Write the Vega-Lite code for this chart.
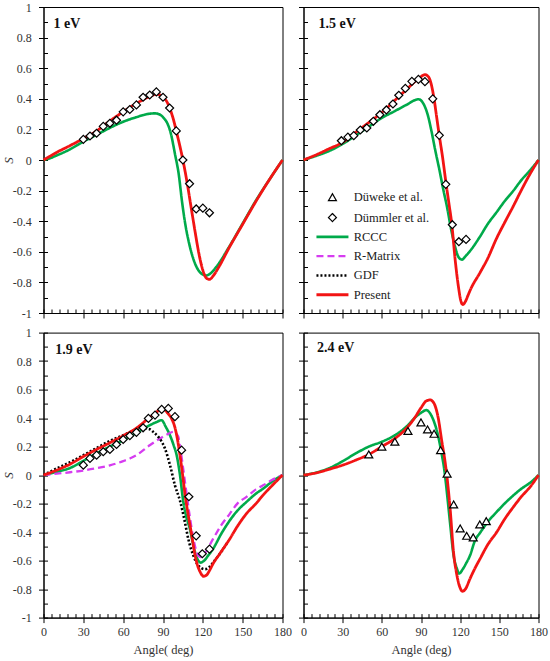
{
  "$schema": "https://vega.github.io/schema/vega-lite/v6.json",
  "background": "white",
  "padding": {"left": 1.5, "top": 0, "right": 0, "bottom": 0},
  "config": {
    "view": {"stroke": "#000000", "strokeWidth": 1},
    "font": "Liberation Serif",
    "axis": {"labelFont": "Liberation Serif", "labelFontSize": 12, "labelColor": "#333333", "titleFont": "Liberation Serif", "titleFontSize": 12.5, "titleFontWeight": "normal", "titleColor": "#333333", "tickColor": "#000000", "domainColor": "#000000", "grid": false, "labelFlush": false, "minExtent": 0},
    "legend": {"labelFont": "Liberation Serif", "labelFontSize": 12.5, "labelColor": "#222222", "padding": 0, "rowPadding": 6.3, "labelOffset": 15, "titlePadding": 0, "symbolSize": 64}
  },
  "datasets": {
    "p1": [
      {"series": "RCCC", "angle": 0, "S": 0}, {"series": "RCCC", "angle": 5, "S": 0.012}, {"series": "RCCC", "angle": 10, "S": 0.03}, {"series": "RCCC", "angle": 20, "S": 0.07}, {"series": "RCCC", "angle": 30, "S": 0.12}, {"series": "RCCC", "angle": 40, "S": 0.165}, {"series": "RCCC", "angle": 50, "S": 0.21}, {"series": "RCCC", "angle": 60, "S": 0.25}, {"series": "RCCC", "angle": 70, "S": 0.28}, {"series": "RCCC", "angle": 78, "S": 0.3}, {"series": "RCCC", "angle": 84, "S": 0.305}, {"series": "RCCC", "angle": 88, "S": 0.295}, {"series": "RCCC", "angle": 91, "S": 0.27}, {"series": "RCCC", "angle": 93, "S": 0.245}, {"series": "RCCC", "angle": 96, "S": 0.17}, {"series": "RCCC", "angle": 99, "S": 0.04}, {"series": "RCCC", "angle": 101.8, "S": -0.09}, {"series": "RCCC", "angle": 104.3, "S": -0.27}, {"series": "RCCC", "angle": 106.8, "S": -0.42}, {"series": "RCCC", "angle": 109.8, "S": -0.55}, {"series": "RCCC", "angle": 113, "S": -0.65}, {"series": "RCCC", "angle": 118, "S": -0.735}, {"series": "RCCC", "angle": 122.4, "S": -0.755}, {"series": "RCCC", "angle": 126, "S": -0.74}, {"series": "RCCC", "angle": 130, "S": -0.7}, {"series": "RCCC", "angle": 140, "S": -0.565}, {"series": "RCCC", "angle": 150, "S": -0.415}, {"series": "RCCC", "angle": 160, "S": -0.265}, {"series": "RCCC", "angle": 170, "S": -0.13}, {"series": "RCCC", "angle": 180, "S": 0},
      {"series": "Present", "angle": 0, "S": 0}, {"series": "Present", "angle": 5, "S": 0.025}, {"series": "Present", "angle": 10, "S": 0.05}, {"series": "Present", "angle": 20, "S": 0.094}, {"series": "Present", "angle": 30, "S": 0.14}, {"series": "Present", "angle": 40, "S": 0.19}, {"series": "Present", "angle": 50, "S": 0.255}, {"series": "Present", "angle": 60, "S": 0.315}, {"series": "Present", "angle": 70, "S": 0.37}, {"series": "Present", "angle": 80, "S": 0.415}, {"series": "Present", "angle": 85, "S": 0.43}, {"series": "Present", "angle": 88, "S": 0.425}, {"series": "Present", "angle": 90, "S": 0.41}, {"series": "Present", "angle": 93, "S": 0.38}, {"series": "Present", "angle": 95, "S": 0.34}, {"series": "Present", "angle": 98, "S": 0.26}, {"series": "Present", "angle": 100, "S": 0.19}, {"series": "Present", "angle": 103, "S": 0.08}, {"series": "Present", "angle": 105, "S": 0.0}, {"series": "Present", "angle": 108, "S": -0.14}, {"series": "Present", "angle": 111, "S": -0.3}, {"series": "Present", "angle": 114, "S": -0.46}, {"series": "Present", "angle": 117, "S": -0.61}, {"series": "Present", "angle": 120, "S": -0.72}, {"series": "Present", "angle": 123, "S": -0.775}, {"series": "Present", "angle": 125, "S": -0.78}, {"series": "Present", "angle": 128, "S": -0.755}, {"series": "Present", "angle": 132, "S": -0.7}, {"series": "Present", "angle": 140, "S": -0.57}, {"series": "Present", "angle": 150, "S": -0.42}, {"series": "Present", "angle": 160, "S": -0.27}, {"series": "Present", "angle": 170, "S": -0.13}, {"series": "Present", "angle": 180, "S": 0},
      {"series": "Dümmler et al.", "angle": 30, "S": 0.135}, {"series": "Dümmler et al.", "angle": 35, "S": 0.157}, {"series": "Dümmler et al.", "angle": 40, "S": 0.175}, {"series": "Dümmler et al.", "angle": 45, "S": 0.22}, {"series": "Dümmler et al.", "angle": 50, "S": 0.24}, {"series": "Dümmler et al.", "angle": 55, "S": 0.26}, {"series": "Dümmler et al.", "angle": 60, "S": 0.315}, {"series": "Dümmler et al.", "angle": 65, "S": 0.33}, {"series": "Dümmler et al.", "angle": 70, "S": 0.36}, {"series": "Dümmler et al.", "angle": 75, "S": 0.41}, {"series": "Dümmler et al.", "angle": 80, "S": 0.425}, {"series": "Dümmler et al.", "angle": 85, "S": 0.445}, {"series": "Dümmler et al.", "angle": 90, "S": 0.41}, {"series": "Dümmler et al.", "angle": 95, "S": 0.34}, {"series": "Dümmler et al.", "angle": 100, "S": 0.19}, {"series": "Dümmler et al.", "angle": 105, "S": 0.0}, {"series": "Dümmler et al.", "angle": 110, "S": -0.155}, {"series": "Dümmler et al.", "angle": 115, "S": -0.32}, {"series": "Dümmler et al.", "angle": 120, "S": -0.315}, {"series": "Dümmler et al.", "angle": 125, "S": -0.345}
    ],
    "p2": [
      {"series": "RCCC", "angle": 0, "S": 0}, {"series": "RCCC", "angle": 10, "S": 0.028}, {"series": "RCCC", "angle": 20, "S": 0.06}, {"series": "RCCC", "angle": 30, "S": 0.105}, {"series": "RCCC", "angle": 40, "S": 0.16}, {"series": "RCCC", "angle": 50, "S": 0.218}, {"series": "RCCC", "angle": 60, "S": 0.275}, {"series": "RCCC", "angle": 70, "S": 0.32}, {"series": "RCCC", "angle": 80, "S": 0.366}, {"series": "RCCC", "angle": 85, "S": 0.39}, {"series": "RCCC", "angle": 88, "S": 0.397}, {"series": "RCCC", "angle": 92, "S": 0.366}, {"series": "RCCC", "angle": 95, "S": 0.3}, {"series": "RCCC", "angle": 98, "S": 0.19}, {"series": "RCCC", "angle": 101, "S": 0.06}, {"series": "RCCC", "angle": 104, "S": -0.06}, {"series": "RCCC", "angle": 107, "S": -0.19}, {"series": "RCCC", "angle": 110, "S": -0.31}, {"series": "RCCC", "angle": 113, "S": -0.45}, {"series": "RCCC", "angle": 116.2, "S": -0.57}, {"series": "RCCC", "angle": 118.7, "S": -0.634}, {"series": "RCCC", "angle": 121.3, "S": -0.651}, {"series": "RCCC", "angle": 124, "S": -0.63}, {"series": "RCCC", "angle": 128, "S": -0.59}, {"series": "RCCC", "angle": 135, "S": -0.503}, {"series": "RCCC", "angle": 141, "S": -0.42}, {"series": "RCCC", "angle": 148, "S": -0.34}, {"series": "RCCC", "angle": 154, "S": -0.27}, {"series": "RCCC", "angle": 161, "S": -0.198}, {"series": "RCCC", "angle": 167, "S": -0.13}, {"series": "RCCC", "angle": 173.6, "S": -0.067}, {"series": "RCCC", "angle": 180, "S": 0},
      {"series": "Present", "angle": 0, "S": 0}, {"series": "Present", "angle": 10, "S": 0.035}, {"series": "Present", "angle": 20, "S": 0.075}, {"series": "Present", "angle": 30, "S": 0.115}, {"series": "Present", "angle": 40, "S": 0.18}, {"series": "Present", "angle": 50, "S": 0.245}, {"series": "Present", "angle": 60, "S": 0.31}, {"series": "Present", "angle": 70, "S": 0.39}, {"series": "Present", "angle": 80, "S": 0.47}, {"series": "Present", "angle": 85, "S": 0.51}, {"series": "Present", "angle": 90, "S": 0.545}, {"series": "Present", "angle": 93, "S": 0.558}, {"series": "Present", "angle": 96, "S": 0.54}, {"series": "Present", "angle": 98, "S": 0.49}, {"series": "Present", "angle": 100, "S": 0.4}, {"series": "Present", "angle": 102, "S": 0.28}, {"series": "Present", "angle": 104, "S": 0.16}, {"series": "Present", "angle": 106.5, "S": 0.02}, {"series": "Present", "angle": 109.3, "S": -0.16}, {"series": "Present", "angle": 111.5, "S": -0.29}, {"series": "Present", "angle": 113.6, "S": -0.42}, {"series": "Present", "angle": 116.2, "S": -0.655}, {"series": "Present", "angle": 118.7, "S": -0.83}, {"series": "Present", "angle": 120.5, "S": -0.92}, {"series": "Present", "angle": 122, "S": -0.945}, {"series": "Present", "angle": 124, "S": -0.925}, {"series": "Present", "angle": 126, "S": -0.885}, {"series": "Present", "angle": 128, "S": -0.845}, {"series": "Present", "angle": 135.3, "S": -0.735}, {"series": "Present", "angle": 141, "S": -0.645}, {"series": "Present", "angle": 148, "S": -0.51}, {"series": "Present", "angle": 154, "S": -0.41}, {"series": "Present", "angle": 160.8, "S": -0.3}, {"series": "Present", "angle": 167, "S": -0.195}, {"series": "Present", "angle": 173.6, "S": -0.09}, {"series": "Present", "angle": 180, "S": 0},
      {"series": "Dümmler et al.", "angle": 29, "S": 0.126}, {"series": "Dümmler et al.", "angle": 34, "S": 0.15}, {"series": "Dümmler et al.", "angle": 38.5, "S": 0.159}, {"series": "Dümmler et al.", "angle": 43.5, "S": 0.196}, {"series": "Dümmler et al.", "angle": 48.5, "S": 0.209}, {"series": "Dümmler et al.", "angle": 53.5, "S": 0.253}, {"series": "Dümmler et al.", "angle": 58.5, "S": 0.296}, {"series": "Dümmler et al.", "angle": 63.5, "S": 0.327}, {"series": "Dümmler et al.", "angle": 68.5, "S": 0.366}, {"series": "Dümmler et al.", "angle": 73, "S": 0.423}, {"series": "Dümmler et al.", "angle": 78, "S": 0.468}, {"series": "Dümmler et al.", "angle": 83, "S": 0.514}, {"series": "Dümmler et al.", "angle": 88, "S": 0.527}, {"series": "Dümmler et al.", "angle": 93, "S": 0.512}, {"series": "Dümmler et al.", "angle": 99, "S": 0.4}, {"series": "Dümmler et al.", "angle": 104, "S": 0.161}, {"series": "Dümmler et al.", "angle": 109, "S": -0.159}, {"series": "Dümmler et al.", "angle": 114, "S": -0.423}, {"series": "Dümmler et al.", "angle": 119, "S": -0.534}, {"series": "Dümmler et al.", "angle": 124.5, "S": -0.519}
    ],
    "p3": [
      {"series": "RCCC", "angle": 0, "S": 0}, {"series": "RCCC", "angle": 10, "S": 0.023}, {"series": "RCCC", "angle": 20, "S": 0.05}, {"series": "RCCC", "angle": 30, "S": 0.1}, {"series": "RCCC", "angle": 40, "S": 0.152}, {"series": "RCCC", "angle": 50, "S": 0.2}, {"series": "RCCC", "angle": 60, "S": 0.245}, {"series": "RCCC", "angle": 70, "S": 0.297}, {"series": "RCCC", "angle": 80, "S": 0.35}, {"series": "RCCC", "angle": 85, "S": 0.372}, {"series": "RCCC", "angle": 89, "S": 0.385}, {"series": "RCCC", "angle": 92, "S": 0.34}, {"series": "RCCC", "angle": 95, "S": 0.285}, {"series": "RCCC", "angle": 98, "S": 0.21}, {"series": "RCCC", "angle": 100.3, "S": 0.139}, {"series": "RCCC", "angle": 102.8, "S": 0.0}, {"series": "RCCC", "angle": 105.3, "S": -0.187}, {"series": "RCCC", "angle": 107.5, "S": -0.29}, {"series": "RCCC", "angle": 110.3, "S": -0.38}, {"series": "RCCC", "angle": 113, "S": -0.5}, {"series": "RCCC", "angle": 116, "S": -0.59}, {"series": "RCCC", "angle": 118.3, "S": -0.614}, {"series": "RCCC", "angle": 121, "S": -0.6}, {"series": "RCCC", "angle": 124, "S": -0.565}, {"series": "RCCC", "angle": 127.8, "S": -0.516}, {"series": "RCCC", "angle": 134, "S": -0.41}, {"series": "RCCC", "angle": 140.4, "S": -0.317}, {"series": "RCCC", "angle": 146, "S": -0.25}, {"series": "RCCC", "angle": 152.9, "S": -0.188}, {"series": "RCCC", "angle": 160, "S": -0.13}, {"series": "RCCC", "angle": 165.4, "S": -0.095}, {"series": "RCCC", "angle": 173, "S": -0.04}, {"series": "RCCC", "angle": 180, "S": 0},
      {"series": "R-Matrix", "angle": 0, "S": 0}, {"series": "R-Matrix", "angle": 10, "S": 0.01}, {"series": "R-Matrix", "angle": 20, "S": 0.02}, {"series": "R-Matrix", "angle": 30, "S": 0.032}, {"series": "R-Matrix", "angle": 40, "S": 0.048}, {"series": "R-Matrix", "angle": 50, "S": 0.068}, {"series": "R-Matrix", "angle": 60, "S": 0.098}, {"series": "R-Matrix", "angle": 65, "S": 0.116}, {"series": "R-Matrix", "angle": 70, "S": 0.14}, {"series": "R-Matrix", "angle": 80, "S": 0.209}, {"series": "R-Matrix", "angle": 90, "S": 0.27}, {"series": "R-Matrix", "angle": 94, "S": 0.29}, {"series": "R-Matrix", "angle": 97.7, "S": 0.303}, {"series": "R-Matrix", "angle": 100, "S": 0.29}, {"series": "R-Matrix", "angle": 101.5, "S": 0.27}, {"series": "R-Matrix", "angle": 102.8, "S": 0.2}, {"series": "R-Matrix", "angle": 105, "S": 0.06}, {"series": "R-Matrix", "angle": 107, "S": -0.08}, {"series": "R-Matrix", "angle": 110, "S": -0.28}, {"series": "R-Matrix", "angle": 113, "S": -0.45}, {"series": "R-Matrix", "angle": 116.5, "S": -0.565}, {"series": "R-Matrix", "angle": 118.5, "S": -0.575}, {"series": "R-Matrix", "angle": 121, "S": -0.555}, {"series": "R-Matrix", "angle": 127.8, "S": -0.446}, {"series": "R-Matrix", "angle": 134, "S": -0.35}, {"series": "R-Matrix", "angle": 140.4, "S": -0.27}, {"series": "R-Matrix", "angle": 146, "S": -0.2}, {"series": "R-Matrix", "angle": 152.9, "S": -0.153}, {"series": "R-Matrix", "angle": 160, "S": -0.1}, {"series": "R-Matrix", "angle": 165.4, "S": -0.072}, {"series": "R-Matrix", "angle": 172, "S": -0.035}, {"series": "R-Matrix", "angle": 180, "S": 0},
      {"series": "GDF", "angle": 0, "S": 0}, {"series": "GDF", "angle": 10, "S": 0.047}, {"series": "GDF", "angle": 20, "S": 0.09}, {"series": "GDF", "angle": 30, "S": 0.14}, {"series": "GDF", "angle": 40, "S": 0.19}, {"series": "GDF", "angle": 50, "S": 0.24}, {"series": "GDF", "angle": 60, "S": 0.28}, {"series": "GDF", "angle": 70, "S": 0.316}, {"series": "GDF", "angle": 76, "S": 0.328}, {"series": "GDF", "angle": 80, "S": 0.322}, {"series": "GDF", "angle": 83, "S": 0.3}, {"series": "GDF", "angle": 86.5, "S": 0.268}, {"series": "GDF", "angle": 91.5, "S": 0.186}, {"series": "GDF", "angle": 95.3, "S": 0.069}, {"series": "GDF", "angle": 99, "S": -0.072}, {"series": "GDF", "angle": 102.8, "S": -0.18}, {"series": "GDF", "angle": 106.5, "S": -0.33}, {"series": "GDF", "angle": 109, "S": -0.446}, {"series": "GDF", "angle": 112.8, "S": -0.563}, {"series": "GDF", "angle": 116.5, "S": -0.633}, {"series": "GDF", "angle": 121.6, "S": -0.66}, {"series": "GDF", "angle": 125, "S": -0.645}, {"series": "GDF", "angle": 128, "S": -0.61}, {"series": "GDF", "angle": 133, "S": -0.55}, {"series": "GDF", "angle": 138, "S": -0.48},
      {"series": "Present", "angle": 0, "S": 0}, {"series": "Present", "angle": 10, "S": 0.035}, {"series": "Present", "angle": 20, "S": 0.077}, {"series": "Present", "angle": 30, "S": 0.13}, {"series": "Present", "angle": 40, "S": 0.18}, {"series": "Present", "angle": 50, "S": 0.227}, {"series": "Present", "angle": 60, "S": 0.276}, {"series": "Present", "angle": 70, "S": 0.33}, {"series": "Present", "angle": 80, "S": 0.405}, {"series": "Present", "angle": 85, "S": 0.44}, {"series": "Present", "angle": 88.3, "S": 0.467}, {"series": "Present", "angle": 91, "S": 0.46}, {"series": "Present", "angle": 93.5, "S": 0.435}, {"series": "Present", "angle": 96.5, "S": 0.396}, {"series": "Present", "angle": 98.5, "S": 0.35}, {"series": "Present", "angle": 100.3, "S": 0.28}, {"series": "Present", "angle": 102.8, "S": 0.139}, {"series": "Present", "angle": 104.8, "S": 0.0}, {"series": "Present", "angle": 106.8, "S": -0.15}, {"series": "Present", "angle": 109, "S": -0.28}, {"series": "Present", "angle": 111.6, "S": -0.42}, {"series": "Present", "angle": 113.5, "S": -0.53}, {"series": "Present", "angle": 115.3, "S": -0.61}, {"series": "Present", "angle": 118, "S": -0.68}, {"series": "Present", "angle": 120.6, "S": -0.71}, {"series": "Present", "angle": 123, "S": -0.7}, {"series": "Present", "angle": 125, "S": -0.67}, {"series": "Present", "angle": 127.8, "S": -0.62}, {"series": "Present", "angle": 132.9, "S": -0.55}, {"series": "Present", "angle": 140.4, "S": -0.446}, {"series": "Present", "angle": 146, "S": -0.36}, {"series": "Present", "angle": 152.9, "S": -0.27}, {"series": "Present", "angle": 160, "S": -0.2}, {"series": "Present", "angle": 165.4, "S": -0.14}, {"series": "Present", "angle": 172, "S": -0.075}, {"series": "Present", "angle": 180, "S": 0},
      {"series": "Dümmler et al.", "angle": 30, "S": 0.07}, {"series": "Dümmler et al.", "angle": 35, "S": 0.117}, {"series": "Dümmler et al.", "angle": 40, "S": 0.14}, {"series": "Dümmler et al.", "angle": 45, "S": 0.164}, {"series": "Dümmler et al.", "angle": 50, "S": 0.18}, {"series": "Dümmler et al.", "angle": 55, "S": 0.215}, {"series": "Dümmler et al.", "angle": 60, "S": 0.25}, {"series": "Dümmler et al.", "angle": 65, "S": 0.276}, {"series": "Dümmler et al.", "angle": 70, "S": 0.3}, {"series": "Dümmler et al.", "angle": 75, "S": 0.332}, {"series": "Dümmler et al.", "angle": 79, "S": 0.398}, {"series": "Dümmler et al.", "angle": 84, "S": 0.421}, {"series": "Dümmler et al.", "angle": 89, "S": 0.461}, {"series": "Dümmler et al.", "angle": 94, "S": 0.468}, {"series": "Dümmler et al.", "angle": 99, "S": 0.41}, {"series": "Dümmler et al.", "angle": 104, "S": 0.175}, {"series": "Dümmler et al.", "angle": 109.5, "S": -0.152}, {"series": "Dümmler et al.", "angle": 115, "S": -0.426}, {"series": "Dümmler et al.", "angle": 119.6, "S": -0.552}, {"series": "Dümmler et al.", "angle": 125, "S": -0.52}
    ],
    "p4": [
      {"series": "RCCC", "angle": 0, "S": 0}, {"series": "RCCC", "angle": 10, "S": 0.019}, {"series": "RCCC", "angle": 20, "S": 0.05}, {"series": "RCCC", "angle": 30, "S": 0.098}, {"series": "RCCC", "angle": 40, "S": 0.152}, {"series": "RCCC", "angle": 50, "S": 0.2}, {"series": "RCCC", "angle": 60, "S": 0.234}, {"series": "RCCC", "angle": 70, "S": 0.28}, {"series": "RCCC", "angle": 80, "S": 0.35}, {"series": "RCCC", "angle": 85, "S": 0.4}, {"series": "RCCC", "angle": 90, "S": 0.437}, {"series": "RCCC", "angle": 94, "S": 0.456}, {"series": "RCCC", "angle": 97, "S": 0.433}, {"series": "RCCC", "angle": 100, "S": 0.374}, {"series": "RCCC", "angle": 103, "S": 0.28}, {"series": "RCCC", "angle": 106, "S": 0.14}, {"series": "RCCC", "angle": 107.5, "S": 0.06}, {"series": "RCCC", "angle": 109, "S": -0.05}, {"series": "RCCC", "angle": 110.5, "S": -0.18}, {"series": "RCCC", "angle": 112.3, "S": -0.34}, {"series": "RCCC", "angle": 114.9, "S": -0.56}, {"series": "RCCC", "angle": 117.5, "S": -0.656}, {"series": "RCCC", "angle": 119.2, "S": -0.691}, {"series": "RCCC", "angle": 122, "S": -0.66}, {"series": "RCCC", "angle": 124.5, "S": -0.62}, {"series": "RCCC", "angle": 127.6, "S": -0.563}, {"series": "RCCC", "angle": 131.4, "S": -0.458}, {"series": "RCCC", "angle": 135.3, "S": -0.404}, {"series": "RCCC", "angle": 141, "S": -0.33}, {"series": "RCCC", "angle": 148, "S": -0.258}, {"series": "RCCC", "angle": 154, "S": -0.2}, {"series": "RCCC", "angle": 160.8, "S": -0.142}, {"series": "RCCC", "angle": 167, "S": -0.095}, {"series": "RCCC", "angle": 173.6, "S": -0.053}, {"series": "RCCC", "angle": 180, "S": 0},
      {"series": "Present", "angle": 0, "S": 0}, {"series": "Present", "angle": 10, "S": 0.016}, {"series": "Present", "angle": 20, "S": 0.042}, {"series": "Present", "angle": 30, "S": 0.07}, {"series": "Present", "angle": 40, "S": 0.105}, {"series": "Present", "angle": 50, "S": 0.145}, {"series": "Present", "angle": 60, "S": 0.2}, {"series": "Present", "angle": 70, "S": 0.257}, {"series": "Present", "angle": 80, "S": 0.34}, {"series": "Present", "angle": 85, "S": 0.4}, {"series": "Present", "angle": 90, "S": 0.472}, {"series": "Present", "angle": 94, "S": 0.52}, {"series": "Present", "angle": 97, "S": 0.528}, {"series": "Present", "angle": 100, "S": 0.503}, {"series": "Present", "angle": 103, "S": 0.41}, {"series": "Present", "angle": 106, "S": 0.234}, {"series": "Present", "angle": 108.5, "S": 0.09}, {"series": "Present", "angle": 110, "S": -0.02}, {"series": "Present", "angle": 112.3, "S": -0.235}, {"series": "Present", "angle": 114.9, "S": -0.54}, {"series": "Present", "angle": 117.5, "S": -0.703}, {"series": "Present", "angle": 119.5, "S": -0.78}, {"series": "Present", "angle": 121.8, "S": -0.815}, {"series": "Present", "angle": 124, "S": -0.8}, {"series": "Present", "angle": 127.6, "S": -0.726}, {"series": "Present", "angle": 131, "S": -0.66}, {"series": "Present", "angle": 135.3, "S": -0.586}, {"series": "Present", "angle": 141, "S": -0.49}, {"series": "Present", "angle": 148, "S": -0.4}, {"series": "Present", "angle": 154, "S": -0.31}, {"series": "Present", "angle": 160.8, "S": -0.223}, {"series": "Present", "angle": 167, "S": -0.15}, {"series": "Present", "angle": 173.6, "S": -0.083}, {"series": "Present", "angle": 180, "S": 0},
      {"series": "Düweke et al.", "angle": 50, "S": 0.145}, {"series": "Düweke et al.", "angle": 60, "S": 0.2}, {"series": "Düweke et al.", "angle": 70, "S": 0.234}, {"series": "Düweke et al.", "angle": 80, "S": 0.31}, {"series": "Düweke et al.", "angle": 90, "S": 0.37}, {"series": "Düweke et al.", "angle": 95, "S": 0.32}, {"series": "Düweke et al.", "angle": 100, "S": 0.29}, {"series": "Düweke et al.", "angle": 105, "S": 0.175}, {"series": "Düweke et al.", "angle": 110, "S": 0.01}, {"series": "Düweke et al.", "angle": 115, "S": -0.206}, {"series": "Düweke et al.", "angle": 120, "S": -0.374}, {"series": "Düweke et al.", "angle": 125, "S": -0.426}, {"series": "Düweke et al.", "angle": 130, "S": -0.437}, {"series": "Düweke et al.", "angle": 135, "S": -0.346}, {"series": "Düweke et al.", "angle": 140, "S": -0.323}
    ]
  },
  "resolve": {"scale": {"color": "shared", "shape": "shared", "strokeDash": "shared", "strokeWidth": "shared"}, "legend": {"color": "shared", "shape": "shared", "strokeDash": "shared", "strokeWidth": "shared"}},
  "columns": 2,
  "spacing": {"row": 5.6, "column": 4},
  "concat": [
    {
      "width": 239, "height": 306,
      "data": {"name": "p1"},
      "resolve": {"axis": {"x": "independent", "y": "independent"}},
      "layer": [
        {
          "transform": [{"filter": {"field": "series", "oneOf": ["RCCC", "R-Matrix", "GDF", "Present"]}}],
          "mark": {"type": "line", "interpolate": "monotone"},
          "encoding": {
            "x": {"field": "angle", "type": "quantitative", "scale": {"domain": [0, 180], "nice": false, "zero": false}, "axis": {"values": [0, 30, 60, 90, 120, 150, 180], "tickSize": 5, "labels": false, "title": null, "orient": "bottom"}},
            "y": {"field": "S", "type": "quantitative", "scale": {"domain": [-1, 1], "nice": false}, "axis": {"values": [-1, -0.8, -0.6, -0.4, -0.2, 0, 0.2, 0.4, 0.6, 0.8, 1], "tickSize": 5, "labelPadding": 7.3, "labelExpr": "'' + datum.value", "title": "S", "titleFontStyle": "italic", "titleFontSize": 13, "titlePadding": -3.5, "orient": "left"}},
            "color": {"field": "series", "type": "nominal", "scale": {"domain": ["Düweke et al.", "Dümmler et al.", "RCCC", "R-Matrix", "GDF", "Present"], "range": ["#000000", "#000000", "#00AA4A", "#D63CF0", "#000000", "#F21414"]}, "legend": {"orient": "none", "legendX": 282.7, "legendY": 184, "title": null}},
            "strokeDash": {"field": "series", "type": "nominal", "scale": {"domain": ["Düweke et al.", "Dümmler et al.", "RCCC", "R-Matrix", "GDF", "Present"], "range": [[1, 0], [1, 0], [1, 0], [7, 4], [2, 2], [1, 0]]}, "legend": {"orient": "none", "legendX": 282.7, "legendY": 184, "title": null}},
            "strokeWidth": {"field": "series", "type": "nominal", "scale": {"type": "ordinal", "domain": ["Düweke et al.", "Dümmler et al.", "RCCC", "R-Matrix", "GDF", "Present"], "range": [1.2, 1.2, 2.6, 2.3, 2.6, 2.8]}, "legend": {"orient": "none", "legendX": 282.7, "legendY": 184, "title": null}}
          }
        },
        {
          "transform": [{"filter": {"field": "series", "oneOf": ["Düweke et al.", "Dümmler et al."]}}],
          "mark": {"type": "point", "filled": false, "fill": "white", "opacity": 1, "size": 64},
          "encoding": {
            "x": {"field": "angle", "type": "quantitative", "scale": {"domain": [0, 180], "nice": false, "zero": false}, "axis": {"values": [0, 6, 12, 18, 24, 30, 36, 42, 48, 54, 60, 66, 72, 78, 84, 90, 96, 102, 108, 114, 120, 126, 132, 138, 144, 150, 156, 162, 168, 174, 180], "tickSize": -4, "labels": false, "domain": false, "title": null, "orient": "bottom"}},
            "y": {"field": "S", "type": "quantitative", "scale": {"domain": [-1, 1], "nice": false}, "axis": {"values": [-1, -0.9, -0.8, -0.7, -0.6, -0.5, -0.4, -0.3, -0.2, -0.1, 0, 0.1, 0.2, 0.3, 0.4, 0.5, 0.6, 0.7, 0.8, 0.9, 1], "tickSize": -4, "labels": false, "domain": false, "title": null, "orient": "left"}},
            "color": {"field": "series", "type": "nominal", "scale": {"domain": ["Düweke et al.", "Dümmler et al.", "RCCC", "R-Matrix", "GDF", "Present"], "range": ["#000000", "#000000", "#00AA4A", "#D63CF0", "#000000", "#F21414"]}, "legend": {"orient": "none", "legendX": 282.7, "legendY": 184, "title": null}},
            "shape": {"field": "series", "type": "nominal", "scale": {"domain": ["Düweke et al.", "Dümmler et al.", "RCCC", "R-Matrix", "GDF", "Present"], "range": ["triangle-up", "diamond", "M-4,0L4,0", "M-4,0L4,0", "M-4,0L4,0", "M-4,0L4,0"]}, "legend": {"orient": "none", "legendX": 282.7, "legendY": 184, "title": null}},
            "strokeWidth": {"field": "series", "type": "nominal", "scale": {"type": "ordinal", "domain": ["Düweke et al.", "Dümmler et al.", "RCCC", "R-Matrix", "GDF", "Present"], "range": [1.2, 1.2, 2.6, 2.3, 2.6, 2.8]}, "legend": {"orient": "none", "legendX": 282.7, "legendY": 184, "title": null}}
          }
        },
        {
          "data": {"values": [{"label": "1 eV"}]},
          "mark": {"type": "text", "align": "left", "baseline": "middle", "font": "Liberation Serif", "fontSize": 14, "fontWeight": "bold", "color": "#111111"},
          "encoding": {"x": {"datum": 7.5, "type": "quantitative", "axis": null}, "y": {"datum": 0.89, "type": "quantitative", "axis": null}, "text": {"field": "label"}}
        }
      ]
    },
    {
      "width": 235, "height": 306,
      "data": {"name": "p2"},
      "resolve": {"axis": {"x": "independent", "y": "independent"}},
      "layer": [
        {
          "transform": [{"filter": {"field": "series", "oneOf": ["RCCC", "R-Matrix", "GDF", "Present"]}}],
          "mark": {"type": "line", "interpolate": "monotone"},
          "encoding": {
            "x": {"field": "angle", "type": "quantitative", "scale": {"domain": [0, 180], "nice": false, "zero": false}, "axis": {"values": [0, 30, 60, 90, 120, 150, 180], "tickSize": 5, "labels": false, "title": null, "orient": "bottom"}},
            "y": {"field": "S", "type": "quantitative", "scale": {"domain": [-1, 1], "nice": false}, "axis": {"values": [-1, -0.8, -0.6, -0.4, -0.2, 0, 0.2, 0.4, 0.6, 0.8, 1], "tickSize": 5, "labels": false, "title": null, "orient": "left"}},
            "color": {"field": "series", "type": "nominal", "scale": {"domain": ["Düweke et al.", "Dümmler et al.", "RCCC", "R-Matrix", "GDF", "Present"], "range": ["#000000", "#000000", "#00AA4A", "#D63CF0", "#000000", "#F21414"]}, "legend": {"orient": "none", "legendX": 282.7, "legendY": 184, "title": null}},
            "strokeDash": {"field": "series", "type": "nominal", "scale": {"domain": ["Düweke et al.", "Dümmler et al.", "RCCC", "R-Matrix", "GDF", "Present"], "range": [[1, 0], [1, 0], [1, 0], [7, 4], [2, 2], [1, 0]]}, "legend": {"orient": "none", "legendX": 282.7, "legendY": 184, "title": null}},
            "strokeWidth": {"field": "series", "type": "nominal", "scale": {"type": "ordinal", "domain": ["Düweke et al.", "Dümmler et al.", "RCCC", "R-Matrix", "GDF", "Present"], "range": [1.2, 1.2, 2.6, 2.3, 2.6, 2.8]}, "legend": {"orient": "none", "legendX": 282.7, "legendY": 184, "title": null}}
          }
        },
        {
          "transform": [{"filter": {"field": "series", "oneOf": ["Düweke et al.", "Dümmler et al."]}}],
          "mark": {"type": "point", "filled": false, "fill": "white", "opacity": 1, "size": 64},
          "encoding": {
            "x": {"field": "angle", "type": "quantitative", "scale": {"domain": [0, 180], "nice": false, "zero": false}, "axis": {"values": [0, 6, 12, 18, 24, 30, 36, 42, 48, 54, 60, 66, 72, 78, 84, 90, 96, 102, 108, 114, 120, 126, 132, 138, 144, 150, 156, 162, 168, 174, 180], "tickSize": -4, "labels": false, "domain": false, "title": null, "orient": "bottom"}},
            "y": {"field": "S", "type": "quantitative", "scale": {"domain": [-1, 1], "nice": false}, "axis": {"values": [-1, -0.9, -0.8, -0.7, -0.6, -0.5, -0.4, -0.3, -0.2, -0.1, 0, 0.1, 0.2, 0.3, 0.4, 0.5, 0.6, 0.7, 0.8, 0.9, 1], "tickSize": -4, "labels": false, "domain": false, "title": null, "orient": "left"}},
            "color": {"field": "series", "type": "nominal", "scale": {"domain": ["Düweke et al.", "Dümmler et al.", "RCCC", "R-Matrix", "GDF", "Present"], "range": ["#000000", "#000000", "#00AA4A", "#D63CF0", "#000000", "#F21414"]}, "legend": {"orient": "none", "legendX": 282.7, "legendY": 184, "title": null}},
            "shape": {"field": "series", "type": "nominal", "scale": {"domain": ["Düweke et al.", "Dümmler et al.", "RCCC", "R-Matrix", "GDF", "Present"], "range": ["triangle-up", "diamond", "M-4,0L4,0", "M-4,0L4,0", "M-4,0L4,0", "M-4,0L4,0"]}, "legend": {"orient": "none", "legendX": 282.7, "legendY": 184, "title": null}},
            "strokeWidth": {"field": "series", "type": "nominal", "scale": {"type": "ordinal", "domain": ["Düweke et al.", "Dümmler et al.", "RCCC", "R-Matrix", "GDF", "Present"], "range": [1.2, 1.2, 2.6, 2.3, 2.6, 2.8]}, "legend": {"orient": "none", "legendX": 282.7, "legendY": 184, "title": null}}
          }
        },
        {
          "data": {"values": [{"label": "1.5 eV"}]},
          "mark": {"type": "text", "align": "left", "baseline": "middle", "font": "Liberation Serif", "fontSize": 14, "fontWeight": "bold", "color": "#111111"},
          "encoding": {"x": {"datum": 11.5, "type": "quantitative", "axis": null}, "y": {"datum": 0.89, "type": "quantitative", "axis": null}, "text": {"field": "label"}}
        }
      ]
    },
    {
      "width": 239, "height": 285,
      "data": {"name": "p3"},
      "resolve": {"axis": {"x": "independent", "y": "independent"}},
      "layer": [
        {
          "transform": [{"filter": {"field": "series", "oneOf": ["RCCC", "R-Matrix", "GDF", "Present"]}}],
          "mark": {"type": "line", "interpolate": "monotone"},
          "encoding": {
            "x": {"field": "angle", "type": "quantitative", "scale": {"domain": [0, 180], "nice": false, "zero": false}, "axis": {"values": [0, 30, 60, 90, 120, 150, 180], "tickSize": 5, "labelPadding": 4, "title": "Angle( deg)", "titlePadding": 5.5, "orient": "bottom"}},
            "y": {"field": "S", "type": "quantitative", "scale": {"domain": [-1, 1], "nice": false}, "axis": {"values": [-1, -0.8, -0.6, -0.4, -0.2, 0, 0.2, 0.4, 0.6, 0.8, 1], "tickSize": 5, "labelPadding": 7.3, "labelExpr": "'' + datum.value", "title": "S", "titleFontStyle": "italic", "titleFontSize": 13, "titlePadding": -3.5, "orient": "left"}},
            "color": {"field": "series", "type": "nominal", "scale": {"domain": ["Düweke et al.", "Dümmler et al.", "RCCC", "R-Matrix", "GDF", "Present"], "range": ["#000000", "#000000", "#00AA4A", "#D63CF0", "#000000", "#F21414"]}, "legend": {"orient": "none", "legendX": 282.7, "legendY": 184, "title": null}},
            "strokeDash": {"field": "series", "type": "nominal", "scale": {"domain": ["Düweke et al.", "Dümmler et al.", "RCCC", "R-Matrix", "GDF", "Present"], "range": [[1, 0], [1, 0], [1, 0], [7, 4], [2, 2], [1, 0]]}, "legend": {"orient": "none", "legendX": 282.7, "legendY": 184, "title": null}},
            "strokeWidth": {"field": "series", "type": "nominal", "scale": {"type": "ordinal", "domain": ["Düweke et al.", "Dümmler et al.", "RCCC", "R-Matrix", "GDF", "Present"], "range": [1.2, 1.2, 2.6, 2.3, 2.6, 2.8]}, "legend": {"orient": "none", "legendX": 282.7, "legendY": 184, "title": null}}
          }
        },
        {
          "transform": [{"filter": {"field": "series", "oneOf": ["Düweke et al.", "Dümmler et al."]}}],
          "mark": {"type": "point", "filled": false, "fill": "white", "opacity": 1, "size": 64},
          "encoding": {
            "x": {"field": "angle", "type": "quantitative", "scale": {"domain": [0, 180], "nice": false, "zero": false}, "axis": {"values": [0, 6, 12, 18, 24, 30, 36, 42, 48, 54, 60, 66, 72, 78, 84, 90, 96, 102, 108, 114, 120, 126, 132, 138, 144, 150, 156, 162, 168, 174, 180], "tickSize": -4, "labels": false, "domain": false, "title": null, "orient": "bottom"}},
            "y": {"field": "S", "type": "quantitative", "scale": {"domain": [-1, 1], "nice": false}, "axis": {"values": [-1, -0.9, -0.8, -0.7, -0.6, -0.5, -0.4, -0.3, -0.2, -0.1, 0, 0.1, 0.2, 0.3, 0.4, 0.5, 0.6, 0.7, 0.8, 0.9, 1], "tickSize": -4, "labels": false, "domain": false, "title": null, "orient": "left"}},
            "color": {"field": "series", "type": "nominal", "scale": {"domain": ["Düweke et al.", "Dümmler et al.", "RCCC", "R-Matrix", "GDF", "Present"], "range": ["#000000", "#000000", "#00AA4A", "#D63CF0", "#000000", "#F21414"]}, "legend": {"orient": "none", "legendX": 282.7, "legendY": 184, "title": null}},
            "shape": {"field": "series", "type": "nominal", "scale": {"domain": ["Düweke et al.", "Dümmler et al.", "RCCC", "R-Matrix", "GDF", "Present"], "range": ["triangle-up", "diamond", "M-4,0L4,0", "M-4,0L4,0", "M-4,0L4,0", "M-4,0L4,0"]}, "legend": {"orient": "none", "legendX": 282.7, "legendY": 184, "title": null}},
            "strokeWidth": {"field": "series", "type": "nominal", "scale": {"type": "ordinal", "domain": ["Düweke et al.", "Dümmler et al.", "RCCC", "R-Matrix", "GDF", "Present"], "range": [1.2, 1.2, 2.6, 2.3, 2.6, 2.8]}, "legend": {"orient": "none", "legendX": 282.7, "legendY": 184, "title": null}}
          }
        },
        {
          "data": {"values": [{"label": "1.9 eV"}]},
          "mark": {"type": "text", "align": "left", "baseline": "middle", "font": "Liberation Serif", "fontSize": 14, "fontWeight": "bold", "color": "#111111"},
          "encoding": {"x": {"datum": 8.8, "type": "quantitative", "axis": null}, "y": {"datum": 0.876, "type": "quantitative", "axis": null}, "text": {"field": "label"}}
        }
      ]
    },
    {
      "width": 235, "height": 285,
      "data": {"name": "p4"},
      "resolve": {"axis": {"x": "independent", "y": "independent"}},
      "layer": [
        {
          "transform": [{"filter": {"field": "series", "oneOf": ["RCCC", "R-Matrix", "GDF", "Present"]}}],
          "mark": {"type": "line", "interpolate": "monotone"},
          "encoding": {
            "x": {"field": "angle", "type": "quantitative", "scale": {"domain": [0, 180], "nice": false, "zero": false}, "axis": {"values": [0, 30, 60, 90, 120, 150, 180], "tickSize": 5, "labelPadding": 4, "title": "Angle (deg)", "titlePadding": 5.5, "orient": "bottom"}},
            "y": {"field": "S", "type": "quantitative", "scale": {"domain": [-1, 1], "nice": false}, "axis": {"values": [-1, -0.8, -0.6, -0.4, -0.2, 0, 0.2, 0.4, 0.6, 0.8, 1], "tickSize": 5, "labels": false, "title": null, "orient": "left"}},
            "color": {"field": "series", "type": "nominal", "scale": {"domain": ["Düweke et al.", "Dümmler et al.", "RCCC", "R-Matrix", "GDF", "Present"], "range": ["#000000", "#000000", "#00AA4A", "#D63CF0", "#000000", "#F21414"]}, "legend": {"orient": "none", "legendX": 282.7, "legendY": 184, "title": null}},
            "strokeDash": {"field": "series", "type": "nominal", "scale": {"domain": ["Düweke et al.", "Dümmler et al.", "RCCC", "R-Matrix", "GDF", "Present"], "range": [[1, 0], [1, 0], [1, 0], [7, 4], [2, 2], [1, 0]]}, "legend": {"orient": "none", "legendX": 282.7, "legendY": 184, "title": null}},
            "strokeWidth": {"field": "series", "type": "nominal", "scale": {"type": "ordinal", "domain": ["Düweke et al.", "Dümmler et al.", "RCCC", "R-Matrix", "GDF", "Present"], "range": [1.2, 1.2, 2.6, 2.3, 2.6, 2.8]}, "legend": {"orient": "none", "legendX": 282.7, "legendY": 184, "title": null}}
          }
        },
        {
          "transform": [{"filter": {"field": "series", "oneOf": ["Düweke et al.", "Dümmler et al."]}}],
          "mark": {"type": "point", "filled": false, "fill": "white", "opacity": 1, "size": 64},
          "encoding": {
            "x": {"field": "angle", "type": "quantitative", "scale": {"domain": [0, 180], "nice": false, "zero": false}, "axis": {"values": [0, 6, 12, 18, 24, 30, 36, 42, 48, 54, 60, 66, 72, 78, 84, 90, 96, 102, 108, 114, 120, 126, 132, 138, 144, 150, 156, 162, 168, 174, 180], "tickSize": -4, "labels": false, "domain": false, "title": null, "orient": "bottom"}},
            "y": {"field": "S", "type": "quantitative", "scale": {"domain": [-1, 1], "nice": false}, "axis": {"values": [-1, -0.9, -0.8, -0.7, -0.6, -0.5, -0.4, -0.3, -0.2, -0.1, 0, 0.1, 0.2, 0.3, 0.4, 0.5, 0.6, 0.7, 0.8, 0.9, 1], "tickSize": -4, "labels": false, "domain": false, "title": null, "orient": "left"}},
            "color": {"field": "series", "type": "nominal", "scale": {"domain": ["Düweke et al.", "Dümmler et al.", "RCCC", "R-Matrix", "GDF", "Present"], "range": ["#000000", "#000000", "#00AA4A", "#D63CF0", "#000000", "#F21414"]}, "legend": {"orient": "none", "legendX": 282.7, "legendY": 184, "title": null}},
            "shape": {"field": "series", "type": "nominal", "scale": {"domain": ["Düweke et al.", "Dümmler et al.", "RCCC", "R-Matrix", "GDF", "Present"], "range": ["triangle-up", "diamond", "M-4,0L4,0", "M-4,0L4,0", "M-4,0L4,0", "M-4,0L4,0"]}, "legend": {"orient": "none", "legendX": 282.7, "legendY": 184, "title": null}},
            "strokeWidth": {"field": "series", "type": "nominal", "scale": {"type": "ordinal", "domain": ["Düweke et al.", "Dümmler et al.", "RCCC", "R-Matrix", "GDF", "Present"], "range": [1.2, 1.2, 2.6, 2.3, 2.6, 2.8]}, "legend": {"orient": "none", "legendX": 282.7, "legendY": 184, "title": null}}
          }
        },
        {
          "data": {"values": [{"label": "2.4 eV"}]},
          "mark": {"type": "text", "align": "left", "baseline": "middle", "font": "Liberation Serif", "fontSize": 14, "fontWeight": "bold", "color": "#111111"},
          "encoding": {"x": {"datum": 10.3, "type": "quantitative", "axis": null}, "y": {"datum": 0.893, "type": "quantitative", "axis": null}, "text": {"field": "label"}}
        }
      ]
    }
  ]
}
